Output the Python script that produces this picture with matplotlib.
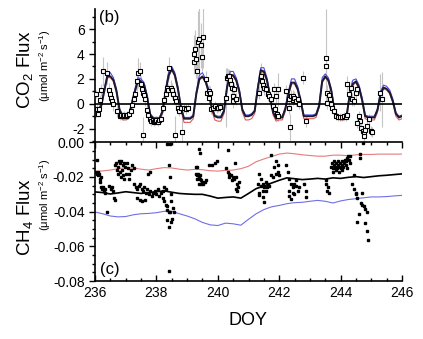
import numpy as np
import matplotlib
matplotlib.use("Agg")
import matplotlib.pyplot as plt
from matplotlib.ticker import MultipleLocator, FormatStrFormatter

plt.rcParams['font.family'] = ['Liberation Sans', 'DejaVu Sans']
plt.rcParams['mathtext.fontset'] = 'custom'
plt.rcParams['mathtext.rm'] = 'Liberation Sans'
plt.rcParams['mathtext.it'] = 'Liberation Sans:italic'
plt.rcParams['axes.unicode_minus'] = False

# ---- CO2 flux: model envelope, every 0.1 day from DOY 236 to 246 ----
model_doy = np.round(np.arange(236.0, 246.05, 0.1), 1)

co2_model = [
    -0.9, -0.6, -0.2, 1.0, 2.2, 2.2, 1.9, 1.0, -0.5, -1.0,
    -1.0, -1.0, 0.0, 1.0, 1.9, 1.8, 1.5, 0.5, -0.9, -1.2,
    -1.2, -1.2, -0.6, 1.0, 2.3, 2.8, 2.3, 1.2, -0.3, -1.2,
    -1.2, -1.2, -1.0, 0.8, 2.0, 2.2, 1.8, 1.0, -0.3, -1.0,
    -1.1, -1.1, -0.6, 1.3, 2.3, 2.3, 1.9, 1.0, -0.5, -1.0,
    -1.0, -0.9, -0.6, 1.2, 2.7, 2.6, 1.9, 0.6, -0.7, -1.2,
    -1.1, -1.1, -0.4, 0.8, 1.7, 1.7, 1.2, 0.2, -1.0, -1.0,
    -1.0, -1.0, -0.9, -0.2, 1.8, 2.2, 1.9, 1.0, -0.6, -1.0,
    -1.1, -1.1, -0.9, 0.8, 1.6, 1.8, 1.3, 0.3, -1.0, -1.1,
    -1.1, -1.1, -0.5, 0.8, 1.3, 1.2, 0.9, 0.2, -0.8, -1.1,
    -1.0,
]
co2_upper = [
    -0.8, -0.5, 0.0, 1.2, 2.4, 2.5, 2.1, 1.2, -0.4, -0.9,
    -0.9, -0.9, 0.2, 1.2, 2.1, 2.0, 1.7, 0.7, -0.8, -1.1,
    -1.1, -1.1, -0.5, 1.2, 2.6, 3.0, 2.5, 1.4, -0.2, -1.1,
    -1.1, -1.1, -0.9, 1.0, 2.3, 2.5, 2.0, 1.2, -0.2, -0.9,
    -1.0, -1.0, -0.5, 1.5, 2.6, 2.6, 2.1, 1.2, -0.4, -0.9,
    -0.9, -0.8, -0.5, 1.4, 2.9, 2.9, 2.1, 0.8, -0.6, -1.1,
    -1.0, -1.0, -0.3, 1.0, 2.0, 2.0, 1.4, 0.4, -0.9, -0.9,
    -0.9, -0.9, -0.8, 0.0, 2.1, 2.4, 2.1, 1.2, -0.5, -0.9,
    -1.0, -1.0, -0.8, 1.0, 1.9, 2.0, 1.5, 0.5, -0.9, -1.0,
    -1.0, -1.0, -0.4, 1.0, 1.5, 1.4, 1.1, 0.4, -0.7, -1.0,
    -0.9,
]
co2_lower = [
    -1.2, -0.8, -0.3, 0.9, 2.1, 2.1, 1.8, 0.9, -0.7, -1.3,
    -1.3, -1.2, -0.1, 0.9, 1.8, 1.7, 1.4, 0.4, -1.1, -1.5,
    -1.5, -1.4, -0.8, 0.9, 2.2, 2.7, 2.2, 1.1, -0.5, -1.5,
    -1.5, -1.5, -1.2, 0.7, 1.9, 2.1, 1.7, 0.9, -0.5, -1.3,
    -1.4, -1.4, -0.8, 1.2, 2.2, 2.2, 1.8, 0.9, -0.7, -1.3,
    -1.3, -1.2, -0.8, 1.1, 2.6, 2.5, 1.8, 0.5, -0.9, -1.4,
    -1.3, -1.3, -0.6, 0.7, 1.6, 1.6, 1.1, 0.1, -1.2, -1.2,
    -1.2, -1.2, -1.1, -0.3, 1.7, 2.1, 1.8, 0.9, -0.8, -1.2,
    -1.3, -1.3, -1.1, 0.7, 1.5, 1.7, 1.2, 0.2, -1.2, -1.3,
    -1.3, -1.3, -0.7, 0.7, 1.2, 1.1, 0.8, 0.1, -1.0, -1.3,
    -1.2,
]

# ---- CO2 flux: measured (DOY, flux, error) ----
co2_obs_doy = [
    236.03, 236.06, 236.09, 236.12, 236.16, 236.20, 236.25, 236.38, 236.47, 236.50,
    236.53, 236.56, 236.60, 236.72, 236.80, 236.85, 236.90, 236.95, 237.00, 237.05,
    237.10, 237.16, 237.22, 237.26, 237.30, 237.36, 237.40, 237.46, 237.50, 237.53,
    237.56, 237.59, 237.62, 237.57, 237.70, 237.74, 237.78, 237.84, 237.88, 237.92,
    237.96, 238.00, 238.05, 238.10, 238.16, 238.22, 238.26, 238.30, 238.34, 238.38,
    238.42, 238.46, 238.50, 238.55, 238.60, 238.64, 238.62, 238.84, 238.70, 238.75,
    238.80, 238.90, 238.96, 239.02,
    239.22, 239.24, 239.26, 239.30, 239.32, 239.34, 239.38, 239.44, 239.47, 239.52,
    239.62, 239.66, 239.70, 239.74, 239.72, 239.78, 239.84, 239.90, 239.96, 240.02,
    240.06,
    240.28, 240.30, 240.32, 240.36, 240.40, 240.42, 240.45, 240.48, 240.50, 240.53,
    240.58,
    241.35, 241.41, 241.43, 241.46, 241.52, 241.57, 241.63, 241.68, 241.73, 241.84,
    241.95, 241.90, 241.79, 241.86, 241.92, 241.97,
    242.22, 242.33, 242.38, 242.44, 242.46, 242.49, 242.54, 242.60, 242.65, 242.33,
    242.76, 242.87, 242.35,
    243.52, 243.52, 243.55, 243.55, 243.62, 243.66, 243.70, 243.73, 243.78, 243.86,
    243.92, 243.98, 244.04, 244.10, 244.16, 244.22,
    244.22, 244.33, 244.27, 244.38, 244.44, 244.49, 244.54,
    244.60, 244.63, 244.54, 244.66, 244.72, 244.77, 244.75, 244.81, 244.87, 244.92,
    244.98, 245.03,
    245.28, 245.34,
]
co2_obs = [
    0.8, -0.4, -0.8, -0.4, 0.3, 1.1, 2.6, 2.5, 1.1, 0.8,
    0.5, 0.2, 0.0, -0.6, -1.0, -0.9, -1.0, -0.9, -1.0, -0.9,
    -0.8, -0.6, -0.1, 0.4, 0.8, 1.8, 2.5, 2.6, 1.6, 1.2,
    0.9, 0.7, 0.4, -2.55, -0.5, -0.9, -1.2, -1.4, -1.3, -1.5,
    -1.4, -1.3, -1.5, -1.3, -1.2, -0.3, 0.3, 0.8, 1.3, 1.1,
    2.9, 1.3, 1.1, 0.8, 0.5, 0.2, -2.5, -2.3, -0.3, -0.6,
    -0.3, -0.3, -0.45, -0.3,
    3.4, 4.0, 4.4, 3.6, 2.6, 5.0, 5.2, 4.7, 3.8, 5.4,
    2.0, 0.9, 1.0, 0.9, 0.5, -0.45, -0.3, -0.2, -0.35, -0.3,
    -0.25,
    0.5, 2.1, 2.2, 2.2, 1.9, 1.6, 1.3, 0.6, 0.2, 1.2,
    0.4,
    0.9, 2.2, 1.8, 1.55, 1.3, 1.15, 0.75, 0.6, 0.35, 1.15,
    1.15, 0.6, -0.2, -0.45, -0.85, -0.95,
    1.0, 0.35, 0.6, 0.6, 0.3, 0.5, 0.2, 0.35, -0.05, -0.3,
    2.1, -1.4, -1.9,
    3.7, 3.0, 0.9, 0.1, 0.7, 0.35, 0.0, -0.35, -0.6, -1.0,
    -1.1, -1.05, -1.1, -1.0, -1.05, -0.9,
    1.6, 1.3, 0.8, 0.35, 0.2, 0.9, 1.2,
    -1.0, -1.4, -1.55, -1.95, -2.2, -2.35, -2.6, -2.1, -1.8, -1.2,
    -2.2, -2.3,
    0.9, 0.35,
]
co2_err = [
    0.3, 0.4, 0.3, 0.3, 0.4, 0.5, 1.2, 0.9, 0.6, 0.5,
    0.5, 0.4, 0.6, 0.5, 0.3, 0.3, 0.3, 0.3, 0.3, 0.3,
    0.3, 0.3, 0.4, 0.5, 0.5, 0.8, 1.2, 0.8, 0.6, 0.6,
    0.5, 0.5, 0.6, 1.5, 0.5, 0.4, 0.4, 0.4, 0.3, 0.3,
    0.3, 0.3, 0.3, 0.3, 0.3, 0.4, 0.5, 0.5, 0.6, 0.5,
    0.9, 0.6, 0.6, 0.5, 0.6, 0.6, 1.5, 1.5, 0.5, 0.4,
    0.4, 0.4, 0.4, 0.4,
    1.0, 1.5, 1.5, 1.5, 1.0, 2.5, 2.5, 1.8, 1.2, 2.5,
    0.6, 0.5, 0.5, 0.5, 0.5, 0.4, 0.4, 0.4, 0.4, 0.4,
    0.4,
    2.4, 0.8, 0.6, 0.6, 0.7, 0.6, 0.5, 0.5, 0.5, 0.5,
    0.5,
    0.5, 1.1, 0.7, 0.6, 0.6, 0.5, 0.5, 0.5, 0.5, 0.5,
    1.3, 0.5, 0.4, 0.4, 0.4, 0.4,
    0.5, 0.5, 0.5, 0.5, 0.4, 0.5, 0.4, 0.4, 0.4, 0.5,
    0.5, 0.5, 1.1,
    3.9, 0.8, 0.6, 0.5, 0.5, 0.4, 0.4, 0.4, 0.4, 0.3,
    0.3, 0.3, 0.3, 0.3, 0.3, 0.3,
    0.6, 0.5, 0.5, 0.5, 0.4, 0.5, 0.5,
    0.4, 0.4, 0.4, 0.4, 0.4, 0.4, 0.4, 0.4, 0.4, 0.4,
    0.4, 0.4,
    1.5, 2.2,
]

# ---- CH4 flux: model envelope, every 0.25 day ----
ch4_model_doy = np.round(np.arange(236.0, 246.01, 0.25), 2)

ch4_model = [
    -0.0286, -0.0290, -0.0298, -0.0292, -0.0285, -0.0290, -0.0295, -0.0290,
    -0.0285, -0.0280, -0.0288, -0.0295, -0.0298, -0.0300, -0.0300, -0.0310,
    -0.0322, -0.0318, -0.0315, -0.0322, -0.0295, -0.0267, -0.0252, -0.0235,
    -0.0219, -0.0205, -0.0210, -0.0215, -0.0212, -0.0208, -0.0212, -0.0205,
    -0.0208, -0.0202, -0.0198, -0.0203, -0.0198, -0.0193, -0.0190, -0.0186,
    -0.0182,
]
ch4_upper = [
    -0.0168, -0.0165, -0.0160, -0.0152, -0.0146, -0.0148, -0.0155, -0.0160,
    -0.0152, -0.0146, -0.0148, -0.0155, -0.0160, -0.0156, -0.0158, -0.0164,
    -0.0166, -0.0162, -0.0160, -0.0152, -0.0138, -0.0112, -0.0096, -0.0082,
    -0.0068, -0.0062, -0.0066, -0.0072, -0.0076, -0.0080, -0.0080, -0.0074,
    -0.0074, -0.0078, -0.0072, -0.0070, -0.0070, -0.0068, -0.0068, -0.0068,
    -0.0068,
]
ch4_lower = [
    -0.0402, -0.0412, -0.0425, -0.0430, -0.0428, -0.0418, -0.0412, -0.0410,
    -0.0406, -0.0398, -0.0398, -0.0412, -0.0425, -0.0441, -0.0462, -0.0476,
    -0.0480, -0.0466, -0.0470, -0.0478, -0.0444, -0.0412, -0.0388, -0.0372,
    -0.0364, -0.0354, -0.0348, -0.0346, -0.0340, -0.0335, -0.0340, -0.0350,
    -0.0338, -0.0330, -0.0325, -0.0320, -0.0315, -0.0315, -0.0313, -0.0309,
    -0.0306,
]

# ---- CH4 flux: measured ----
ch4_obs_doy = [
    236.02, 236.05, 236.06, 236.09, 236.11, 236.13, 236.15, 236.16, 236.19, 236.21,
    236.23, 236.26, 236.28, 236.31, 236.33, 236.40, 236.45, 236.52, 236.55, 236.58,
    236.62, 236.66,
    236.66, 236.70, 236.74, 236.78, 236.82, 236.86, 236.90, 236.94, 236.98, 237.03,
    237.08, 236.72, 236.80, 236.88, 236.92, 236.85, 237.00, 237.12, 237.18, 236.76,
    236.95, 237.10, 237.22, 237.26,
    237.28, 237.33, 237.38, 237.43, 237.47, 237.52, 237.56, 237.60, 237.65, 237.70,
    237.75, 237.80, 237.85, 237.90, 237.95, 238.00, 238.05, 237.47, 237.53, 237.38,
    237.72, 237.78, 238.10, 238.15, 238.20, 238.25, 238.30, 237.62,
    238.23, 238.26, 238.30, 238.33, 238.36, 238.40, 238.36, 238.40, 238.43, 238.46,
    238.49, 238.49, 238.43, 238.40, 238.36, 238.43, 238.42, 238.52, 238.55, 238.58,
    239.30, 239.33, 239.28, 239.31, 239.35, 239.38, 239.42, 239.46, 239.50, 239.53,
    239.57, 239.60, 239.40, 239.46, 239.33, 239.43, 239.40, 239.42,
    239.72, 239.82, 239.92, 239.96,
    240.33, 240.28, 240.33, 240.38, 240.43, 240.48, 240.53, 240.58, 240.35, 240.45,
    240.63, 240.58, 240.63, 240.65, 240.55, 240.68,
    241.73, 241.90, 241.95, 241.84, 241.95, 241.90, 242.00, 241.35, 241.41, 241.46,
    241.52, 241.57, 241.63, 241.35, 241.46, 241.52, 241.57, 241.68, 241.41, 241.30,
    241.35, 241.46, 241.73, 241.79, 241.60,
    242.22, 242.28, 242.33, 242.38, 242.44, 242.49, 242.54, 242.33, 242.44, 242.38,
    242.49, 242.60, 242.82, 242.87, 242.87, 242.33, 242.54, 242.65,
    243.51, 243.54, 243.56, 243.62, 243.58,
    243.70, 243.72, 243.75, 243.78, 243.80, 243.83, 243.85, 243.88, 243.90, 243.93,
    243.95, 243.98, 244.00, 244.03, 244.05, 244.08, 244.10, 244.13, 244.16, 244.18,
    244.21, 244.24, 244.27, 244.30, 243.76, 243.86, 243.96, 244.06, 244.20, 244.32,
    244.43, 244.62, 244.64, 244.37, 244.43, 244.49, 244.49, 244.54, 244.70, 244.65,
    244.70, 244.75, 244.81, 244.86, 244.60, 244.54, 244.81, 244.86, 244.89, 244.72,
]
ch4_obs = [
    -0.017, -0.010, -0.018, -0.017, -0.019, -0.018, -0.021, -0.023, -0.020, -0.026,
    -0.027, -0.026, -0.028, -0.027, -0.029, -0.040, -0.025, -0.027, -0.026, -0.028,
    -0.032, -0.033,
    -0.013, -0.012, -0.014, -0.011, -0.012, -0.011, -0.013, -0.012, -0.014, -0.012,
    -0.015, -0.016, -0.017, -0.016, -0.019, -0.020, -0.018, -0.018, -0.016, -0.018,
    -0.021, -0.021, -0.013, -0.015,
    -0.024, -0.026, -0.027, -0.025, -0.024, -0.027, -0.028, -0.026, -0.029, -0.027,
    -0.030, -0.028, -0.031, -0.029, -0.028, -0.030, -0.027, -0.033, -0.034, -0.032,
    -0.018, -0.017, -0.031, -0.029, -0.028, -0.026, -0.027, -0.033,
    -0.032, -0.034, -0.036, -0.037, -0.039, -0.040, -0.045, -0.049, -0.040, -0.046,
    -0.034, -0.030, -0.020, -0.013, -0.001, -0.001, -0.074, -0.044, -0.038, -0.040,
    -0.014, -0.014, -0.018, -0.019, -0.018, -0.020, -0.021, -0.022, -0.023, -0.024,
    -0.023, -0.022, -0.024, -0.024, -0.021, -0.019, -0.004, -0.006,
    -0.013, -0.013, -0.012, -0.011,
    -0.0045, -0.015, -0.017, -0.018, -0.019, -0.020, -0.021, -0.020, -0.020, -0.022,
    -0.024, -0.027, -0.028, -0.026, -0.012, -0.023,
    -0.0074, -0.011, -0.013, -0.014, -0.017, -0.018, -0.019, -0.018, -0.021, -0.024,
    -0.026, -0.023, -0.024, -0.0305, -0.0315, -0.0344, -0.028, -0.025, -0.025, -0.024,
    -0.029, -0.028, -0.019, -0.020, -0.026,
    -0.013, -0.017, -0.021, -0.024, -0.026, -0.024, -0.025, -0.028, -0.029, -0.0325,
    -0.030, -0.028, -0.024, -0.0315, -0.028, -0.031, -0.022, -0.026,
    -0.022, -0.024, -0.028, -0.029, -0.026,
    -0.014, -0.012, -0.015, -0.013, -0.011, -0.014, -0.012, -0.015, -0.013, -0.011,
    -0.014, -0.012, -0.015, -0.013, -0.011, -0.014, -0.012, -0.010, -0.013, -0.011,
    -0.009, -0.008, -0.010, -0.008, -0.017, -0.016, -0.017, -0.016, -0.015, -0.012,
    -0.019, -0.007, -0.009, -0.024, -0.027, -0.029, -0.030, -0.032, -0.029, -0.035,
    -0.036, -0.037, -0.0386, -0.040, -0.0415, -0.0457, -0.0467, -0.051, -0.0566, -0.0005,
]

BLUE = '#4b4be0'
RED = '#e05a5a'


def style_ticks(ax):
    ax.tick_params(axis='y', which='both', direction='out', labelsize=10, width=1.0)
    ax.tick_params(axis='y', which='major', length=4)
    ax.tick_params(axis='y', which='minor', length=2)
    ax.tick_params(axis='x', which='both', direction='in', labelsize=10, width=1.0)
    ax.tick_params(axis='x', which='major', length=4)
    ax.tick_params(axis='x', which='minor', length=2.5)
    for side in ax.spines.values():
        side.set_linewidth(1.2)


def plot_co2(ax):
    ax.errorbar(co2_obs_doy, co2_obs, yerr=co2_err, fmt='none',
                ecolor='#c4c4c4', elinewidth=0.8, zorder=1)
    ax.plot(model_doy, co2_lower, color=RED, lw=0.8, zorder=2)
    ax.plot(model_doy, co2_upper, color=BLUE, lw=0.8, zorder=2)
    ax.plot(model_doy, co2_model, color='#1a1a2e', lw=1.4, zorder=3)
    ax.axhline(0, color='black', lw=1.2, zorder=3)
    ax.plot(co2_obs_doy, co2_obs, 's', ms=3.0, mfc='white', mec='black',
            mew=0.8, zorder=4)

    ax.set_xlim(236, 246)
    ax.set_ylim(-3.1, 7.6)
    ax.set_yticks([-2, 0, 2, 4, 6])
    ax.yaxis.set_minor_locator(MultipleLocator(1))
    for s in ['top', 'right', 'bottom']:
        ax.spines[s].set_visible(False)
    ax.set_xticks([])
    style_ticks(ax)
    ax.text(0.012, 0.995, '(b)', transform=ax.transAxes, fontsize=12,
            ha='left', va='top')


def plot_ch4(ax):
    ax.plot(ch4_model_doy, ch4_upper, color=RED, lw=0.8, alpha=0.8)
    ax.plot(ch4_model_doy, ch4_lower, color=BLUE, lw=0.8, alpha=0.8)
    ax.plot(ch4_model_doy, ch4_model, color='black', lw=1.2)
    ax.plot(ch4_obs_doy, ch4_obs, 's', ms=2.0, color='black', zorder=4)

    ax.set_xlim(236, 246)
    ax.set_ylim(-0.08, 0.0)
    ax.set_xticks([236, 238, 240, 242, 244, 246])
    ax.xaxis.set_minor_locator(MultipleLocator(0.5))
    ax.set_yticks([-0.08, -0.06, -0.04, -0.02, 0.0])
    ax.yaxis.set_minor_locator(MultipleLocator(0.005))
    ax.yaxis.set_major_formatter(FormatStrFormatter('%.2f'))
    ax.spines['right'].set_visible(False)
    ax.xaxis.set_ticks_position('both')
    style_ticks(ax)
    ax.text(0.015, 0.03, '(c)', transform=ax.transAxes, fontsize=12,
            ha='left', va='bottom')


def main():
    fig = plt.figure(figsize=(4.23, 3.39), dpi=100)
    ax_co2 = fig.add_axes([0.2246, 0.5802, 0.7258, 0.3924])
    ax_ch4 = fig.add_axes([0.2246, 0.171, 0.7258, 0.4092])

    plot_co2(ax_co2)
    plot_ch4(ax_ch4)

    # axis titles
    fig.text(0.060, 0.795, 'CO$_2$ Flux', rotation=90, fontsize=13.5,
             ha='center', va='center')
    fig.text(0.107, 0.805, '(μmol m$^{-2}$ s$^{-1}$)', rotation=90,
             fontsize=8, ha='center', va='center')
    fig.text(0.060, 0.36, 'CH$_4$ Flux', rotation=90, fontsize=13.5,
             ha='center', va='center')
    fig.text(0.107, 0.425, '(μmol m$^{-2}$ s$^{-1}$)', rotation=90,
             fontsize=8, ha='center', va='center')
    fig.text(0.586, 0.056, 'DOY', fontsize=13, ha='center', va='center')

    fig.savefig('out.png', dpi=100)


if __name__ == "__main__":
    main()
